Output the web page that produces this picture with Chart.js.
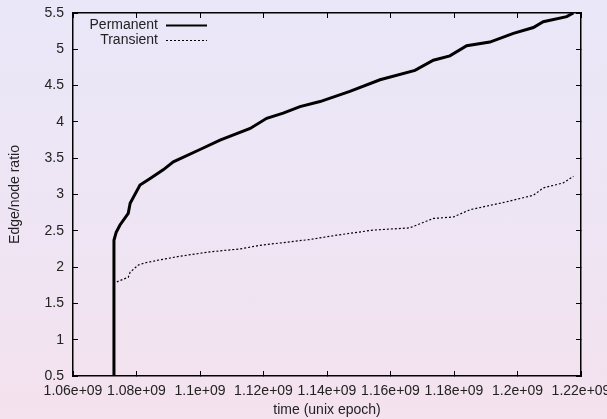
<!DOCTYPE html>
<html>
<head>
<meta charset="utf-8">
<script src="https://cdn.jsdelivr.net/npm/chart.js@4.4.1/dist/chart.umd.min.js"></script>
<style>
  html, body { margin: 0; padding: 0; }
  body {
    width: 607px;
    height: 419px;
    background: linear-gradient(to bottom, #e9e7f8 0%, #eee5f4 50%, #f4e2ee 100%);
    overflow: hidden;
  }
  #wrap { position: relative; width: 607px; height: 419px; }
</style>
</head>
<body>
<div id="wrap"><canvas id="edgeChart"></canvas></div>
<script>
// values (time in units of 1e9 s)
const permanentTime = [1.0729, 1.0729, 1.0736, 1.0748, 1.0774, 1.0780, 1.0811, 1.0843, 1.0884, 1.0916, 1.1000, 1.1063, 1.1158, 1.1210, 1.1262, 1.1315, 1.1378, 1.1472, 1.1567, 1.1677, 1.1735, 1.1787, 1.1840, 1.1913, 1.1987, 1.2050, 1.2081, 1.2155, 1.2176];
const permanentRatio = [0.5, 2.37, 2.48, 2.58, 2.74, 2.88, 3.13, 3.22, 3.34, 3.45, 3.62, 3.75, 3.91, 4.05, 4.12, 4.21, 4.28, 4.42, 4.58, 4.71, 4.85, 4.91, 5.05, 5.10, 5.22, 5.30, 5.38, 5.45, 5.50];

const transientTime = [1.0729, 1.0729, 1.0774, 1.0780, 1.0806, 1.0829, 1.0874, 1.0937, 1.1031, 1.1126, 1.1189, 1.1346, 1.1431, 1.1546, 1.1660, 1.1735, 1.1798, 1.1850, 1.1966, 1.2050, 1.2081, 1.2144, 1.2176];
const transientRatio = [0.5, 1.78, 1.86, 1.93, 2.03, 2.06, 2.10, 2.15, 2.21, 2.25, 2.30, 2.38, 2.44, 2.51, 2.54, 2.67, 2.69, 2.79, 2.90, 2.99, 3.09, 3.16, 3.25];

const xTickMin = 1.06e9, xTickMax = 1.22e9, xTickStep = 0.02e9;
const yTickMin = 0.5, yTickMax = 5.5, yTickStep = 0.5;

const toPoints = (ts, vs) => ts.map((t, i) => ({ x: t * 1e9, y: vs[i] }));

const FONT = { family: "'Liberation Sans', Arial, sans-serif", size: 14 };
const INK = "#222";

// gnuplot-style key: label right-aligned, then a line sample
const keyPlugin = {
  id: "gnuKey",
  afterDraw(chart) {
    const ctx = chart.ctx;
    ctx.save();
    ctx.font = FONT.size + "px " + FONT.family;
    ctx.textAlign = "right";
    ctx.textBaseline = "middle";
    chart.data.datasets.forEach((ds, i) => {
      const y = 25 + i * 15;
      ctx.fillStyle = INK;
      ctx.fillText(ds.label, 158, y);
      ctx.beginPath();
      ctx.strokeStyle = ds.borderColor;
      ctx.lineWidth = i === 0 ? 2 : 1;
      ctx.setLineDash(ds.borderDash || []);
      ctx.moveTo(166, y + 0.5);
      ctx.lineTo(207, y + 0.5);
      ctx.stroke();
    });
    ctx.restore();
  }
};

const fitX = (h) => (s) => { s.height = h; s.paddingLeft = 0; s.paddingRight = 0; };
const fitY = (w) => (s) => { s.width = w; s.paddingTop = 0; s.paddingBottom = 0; };

const axisBase = {
  type: "linear",
  border: { color: "#000", width: 1.5 },
  grid: { drawOnChartArea: false, tickLength: -5, color: "#000", lineWidth: 1 },
};

new Chart(document.getElementById("edgeChart"), {
  type: "line",
  data: {
    datasets: [
      {
        label: "Permanent",
        data: toPoints(permanentTime, permanentRatio),
        borderColor: "#000",
        borderWidth: 3,
        pointRadius: 0,
        tension: 0,
        fill: false,
      },
      {
        label: "Transient",
        data: toPoints(transientTime, transientRatio),
        borderColor: "#000",
        borderWidth: 1.2,
        borderDash: [2, 2],
        pointRadius: 0,
        tension: 0,
        fill: false,
      },
    ],
  },
  options: {
    responsive: true,
    maintainAspectRatio: false,
    animation: false,
    layout: { padding: { left: 0, right: 26, top: 13, bottom: 0 } },
    plugins: { legend: { display: false }, tooltip: { enabled: false } },
    scales: {
      x: {
        ...axisBase,
        position: "bottom",
        min: xTickMin,
        max: xTickMax,
        afterFit: fitX(43),
        ticks: {
          stepSize: xTickStep,
          color: INK,
          font: FONT,
          padding: 12,
          maxRotation: 0,
          autoSkip: false,
          callback: (v) => (Math.round(v / 1e7) / 100) + "e+09",
        },
        title: { display: true, text: "time (unix epoch)", color: INK, font: FONT, padding: { top: 0, bottom: 0 } },
      },
      x2: {
        ...axisBase,
        position: "top",
        min: xTickMin,
        max: xTickMax,
        afterFit: fitX(0),
        ticks: { stepSize: xTickStep, display: false },
      },
      y: {
        ...axisBase,
        position: "left",
        min: yTickMin,
        max: yTickMax,
        afterFit: fitY(73),
        ticks: { stepSize: yTickStep, color: INK, font: FONT, padding: 14, callback: (v) => String(v) },
        title: { display: true, text: "Edge/node ratio", color: INK, font: FONT, padding: { top: 7, bottom: 0 } },
      },
      y2: {
        ...axisBase,
        position: "right",
        min: yTickMin,
        max: yTickMax,
        afterFit: fitY(0),
        ticks: { stepSize: yTickStep, display: false },
      },
    },
  },
  plugins: [keyPlugin],
});
</script>
</body>
</html>
